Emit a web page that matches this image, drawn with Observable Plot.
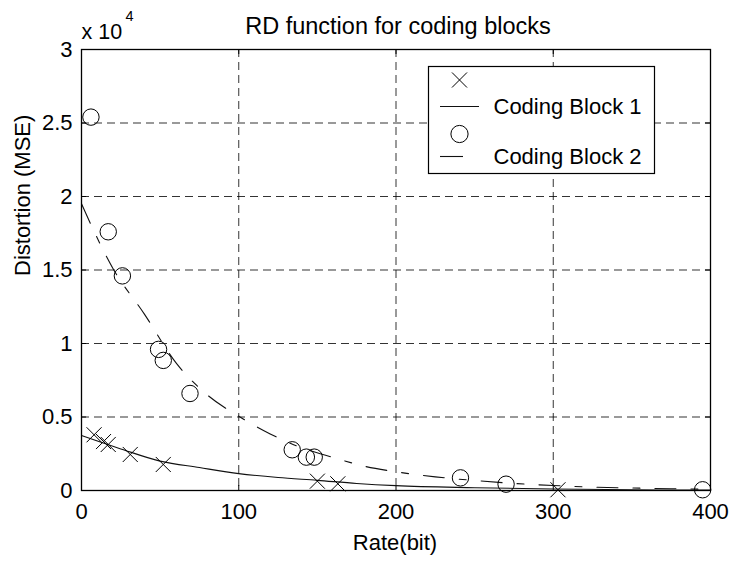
<!DOCTYPE html>
<html>
<head>
<meta charset="utf-8">
<script src="https://cdn.jsdelivr.net/npm/d3@7"></script>
<script src="https://cdn.jsdelivr.net/npm/@observablehq/plot@0.6"></script>
<style>
  body { margin: 0; background: #fff; }
  #chart svg { display: block; }
</style>
</head>
<body>
<div id="chart"></div>
<script>
// Measured rate/distortion points for each coding block
const rate1 = [8, 14, 17, 31, 52, 150, 163, 303];
const mse1 = [3790, 3330, 3130, 2450, 1770, 635, 455, 50];
const rate2 = [6, 17, 26, 49, 52, 69, 134, 143, 148, 241, 270, 395];
const mse2 = [25400, 17600, 14600, 9600, 8850, 6600, 2770, 2270, 2270, 860, 430, 50];

// Fitted RD curves
const fitRate1 = [0, 25, 50, 75, 100, 125, 150, 175, 200, 250, 300, 350, 400];
const fitMse1 = [3740, 2830, 2000, 1560, 1150, 880, 690, 480, 330, 190, 100, 50, 25];
const fitRate2 = [0, 20, 40, 60, 80, 100, 120, 140, 160, 180, 200, 225, 250, 275, 300, 325, 350, 375, 400];
const fitMse2 = [19500, 15100, 12000, 8700, 6500, 5050, 3850, 2900, 2250, 1650, 1270, 930, 680, 480, 340, 230, 170, 120, 80];

// Axes
const xTicks = [0, 100, 200, 300, 400];
const yTicks = [0, 5000, 10000, 15000, 20000, 25000, 30000];
const yTickLabels = ["0", "0.5", "1", "1.5", "2", "2.5", "3"];
const yExponent = "4";
const seriesNames = ["Coding Block 1", "Coding Block 2"];
const titleText = "RD function for coding blocks";
const xLabel = "Rate(bit)";
const yLabel = "Distortion (MSE)";

const FONT = "'Liberation Sans', Arial, Helvetica, sans-serif";
const W = 732, H = 561;
const M = {top: 49, right: 22, bottom: 71, left: 81};

const pts1 = rate1.map((r, i) => ({rate: r, mse: mse1[i]}));
const pts2 = rate2.map((r, i) => ({rate: r, mse: mse2[i]}));
const fit1 = fitRate1.map((r, i) => ({rate: r, mse: fitMse1[i]}));
const fit2 = fitRate2.map((r, i) => ({rate: r, mse: fitMse2[i]}));

const gridStyle = {stroke: "#000", strokeOpacity: 0.8, strokeWidth: 1, strokeDasharray: "8,5"};
const dashDot = "21,15,7,15";

const chart = Plot.plot({
  width: W,
  height: H,
  marginTop: M.top,
  marginRight: M.right,
  marginBottom: M.bottom,
  marginLeft: M.left,
  style: {fontFamily: FONT, fontSize: "22px", color: "#000", background: "#fff"},
  x: {domain: [0, 400], label: null},
  y: {domain: [0, 30000], label: null},
  marks: [
    // dashed grid
    Plot.ruleX(xTicks.slice(1, -1), gridStyle),
    Plot.ruleY(yTicks.slice(1, -1), gridStyle),
    // inward tick marks on all four sides
    Plot.ruleX(xTicks, {y1: 0, y2: 340, stroke: "#000"}),
    Plot.ruleX(xTicks, {y1: 29660, y2: 30000, stroke: "#000"}),
    Plot.ruleY(yTicks, {x1: 0, x2: 3.2, stroke: "#000"}),
    Plot.ruleY(yTicks, {x1: 396.8, x2: 400, stroke: "#000"}),
    // fitted curves
    Plot.line(fit1, {x: "rate", y: "mse", curve: "monotone-x", stroke: "#111", strokeWidth: 1.1}),
    Plot.line(fit2, {x: "rate", y: "mse", curve: "monotone-x", stroke: "#111", strokeWidth: 1.1, strokeDasharray: dashDot}),
    // measured points
    Plot.dot(pts1, {x: "rate", y: "mse", symbol: "times", r: 6.9, stroke: "#000", strokeWidth: 1}),
    Plot.dot(pts2, {x: "rate", y: "mse", symbol: "circle", r: 8.2, stroke: "#000", fill: "none", strokeWidth: 1}),
    Plot.frame({stroke: "#000", strokeWidth: 1.3}),
    Plot.axisX({ticks: xTicks, tickSize: 0, tickPadding: 13, fontSize: 22, label: null}),
    Plot.axisY({ticks: yTicks, tickSize: 0, tickPadding: 9, fontSize: 22, label: null,
      tickFormat: d => yTickLabels[yTicks.indexOf(d)]}),
    // title, labels, exponent
    Plot.text([titleText], {frameAnchor: "top", dx: 2, dy: -16, lineAnchor: "bottom", fontSize: 23.5, fill: "#000"}),
    Plot.text([xLabel], {frameAnchor: "bottom", dx: -1, dy: 59, lineAnchor: "bottom", fontSize: 22, fill: "#000"}),
    Plot.text([yLabel], {frameAnchor: "left", dx: -58.5, dy: 6, rotate: -90, lineAnchor: "middle", fontSize: 22, fill: "#000"}),
    Plot.text(["x 10"], {frameAnchor: "top-left", dx: 0, dy: -11, textAnchor: "start", lineAnchor: "bottom", fontSize: 21.5, fill: "#000"}),
    Plot.text([yExponent], {frameAnchor: "top-left", dx: 44, dy: -29, textAnchor: "start", lineAnchor: "bottom", fontSize: 14.5, fill: "#000"})
  ]
});

// Legend box in the upper right of the plot area
const svg = d3.select(chart);
const lx = W - M.right - 282, ly = M.top + 17;
const lg = svg.append("g")
  .attr("font-family", FONT)
  .attr("font-size", 22)
  .attr("text-anchor", "start");
lg.append("rect")
  .attr("x", lx + 0.5).attr("y", ly + 0.5)
  .attr("width", 226).attr("height", 107)
  .attr("fill", "#fff").attr("stroke", "#000").attr("stroke-width", 1.2);
const rowY = [ly + 14, ly + 40.5, ly + 68, ly + 90.5];
const symTimes = d3.symbol(d3.symbolTimes, Math.PI * 6.9 * 6.9)();
const symCircle = d3.symbol(d3.symbolCircle, Math.PI * 8.6 * 8.6)();
lg.append("path").attr("d", symTimes).attr("transform", `translate(${lx + 31.5},${rowY[0]})`)
  .attr("fill", "none").attr("stroke", "#000");
lg.append("line").attr("x1", lx + 12).attr("x2", lx + 51).attr("y1", rowY[1]).attr("y2", rowY[1])
  .attr("stroke", "#111").attr("stroke-width", 1.1);
lg.append("text").attr("x", lx + 65.5).attr("y", rowY[1]).attr("dy", "0.34em")
  .attr("text-anchor", "start").attr("fill", "#000").text(seriesNames[0]);
lg.append("path").attr("d", symCircle).attr("transform", `translate(${lx + 31.5},${rowY[2]})`)
  .attr("fill", "none").attr("stroke", "#000");
// the dash-dot sample only has room for its first long dash
lg.append("line").attr("x1", lx + 12).attr("x2", lx + 35).attr("y1", rowY[3]).attr("y2", rowY[3])
  .attr("stroke", "#111").attr("stroke-width", 1.1);
lg.append("text").attr("x", lx + 65.5).attr("y", rowY[3]).attr("dy", "0.34em")
  .attr("text-anchor", "start").attr("fill", "#000").text(seriesNames[1]);

document.getElementById("chart").appendChild(chart);
</script>
</body>
</html>
